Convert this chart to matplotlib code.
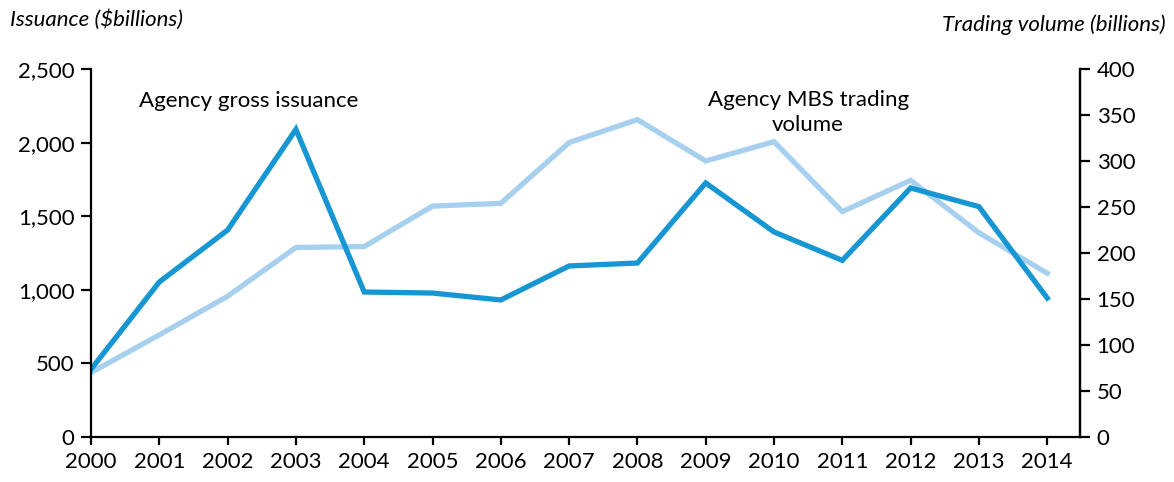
import matplotlib.pyplot as plt

# values
years = list(range(2000, 2015))
issuance = [460, 1053, 1406, 2090, 985, 978, 931, 1162, 1182, 1726, 1393, 1200, 1692, 1565, 944]
trading = [70, 111, 153, 206, 207, 251, 254, 320, 345, 300, 321, 245, 279, 222, 178]

left_ticks = [0, 500, 1000, 1500, 2000, 2500]
right_ticks = [0, 50, 100, 150, 200, 250, 300, 350, 400]

plt.rcParams['font.family'] = ['Lato', 'DejaVu Sans']

fig = plt.figure(figsize=(11.74, 4.82), dpi=100)
ax = fig.add_axes([91 / 1174, 1 - 437 / 482, 989 / 1174, 368 / 482])
ax2 = ax.twinx()

ax2.plot(years, trading, color='#a6d0ee', linewidth=3.8, solid_joinstyle='miter')
ax.plot(years, issuance, color='#1696d2', linewidth=3.8, solid_joinstyle='miter')
ax.set_zorder(ax2.get_zorder() + 1)
ax.patch.set_visible(False)

ax.set_xlim(2000, 2014.48)
ax.set_ylim(0, 2500)
ax2.set_ylim(0, 400)
ax.set_xticks(years)
ax.set_yticks(left_ticks)
ax.set_yticklabels(['{:,}'.format(v) for v in left_ticks])
ax2.set_yticks(right_ticks)

for a in (ax, ax2):
    a.spines['top'].set_visible(False)
    for s in a.spines.values():
        s.set_linewidth(1.6)
    a.tick_params(width=1.6, length=7, labelsize=16, pad=5)
ax.tick_params(axis='x', length=6, pad=5)
ax2.spines['left'].set_visible(False)
ax2.spines['bottom'].set_visible(False)

ax.text(2002.31, 2283, 'Agency gross issuance', fontsize=16, ha='center', va='center')
ax.text(2010.5, 2205, 'Agency MBS trading\nvolume', fontsize=16, ha='center', va='center',
        linespacing=1.3)

fig.text(10 / 1174, 1 - 20 / 482, 'Issuance ($billions)', fontsize=16, style='italic',
         ha='left', va='center')
fig.text(1166 / 1174, 1 - 25 / 482, 'Trading volume (billions)', fontsize=16, style='italic',
         ha='right', va='center')

fig.savefig('out.png', dpi=100)
